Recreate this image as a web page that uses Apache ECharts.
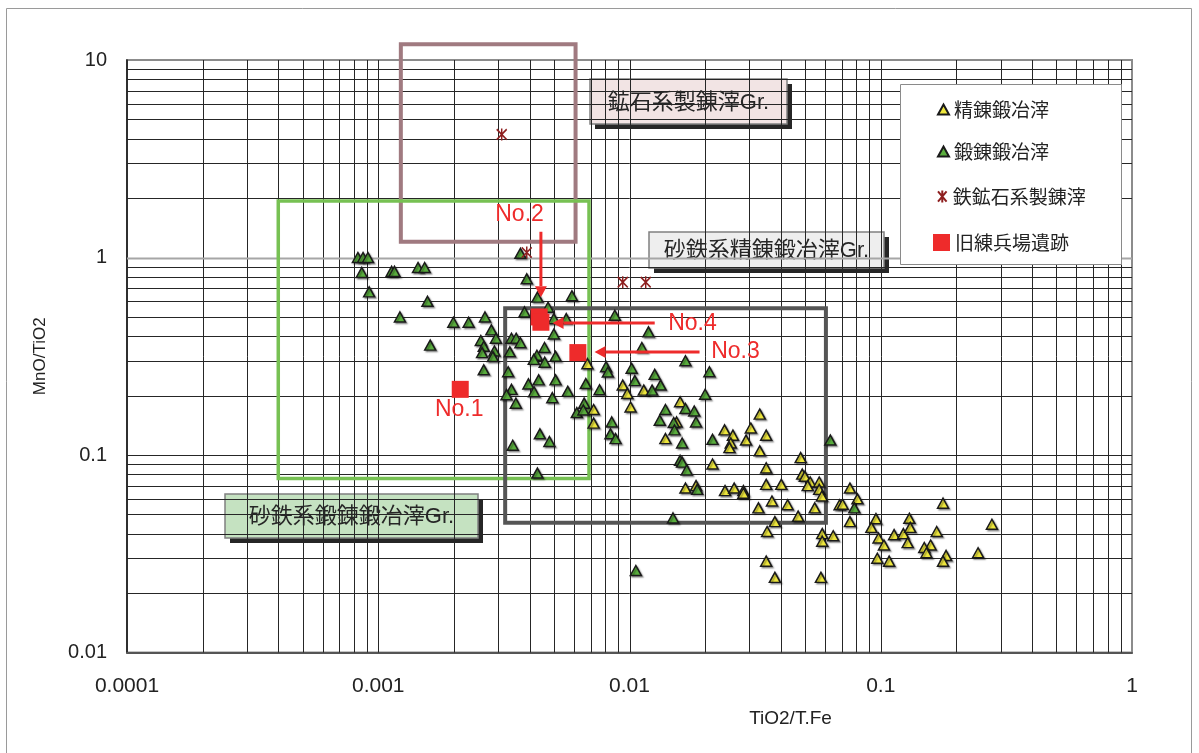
<!DOCTYPE html>
<html>
<head>
<meta charset="utf-8">
<script src="https://cdn.jsdelivr.net/npm/echarts@6/dist/echarts.min.js"></script>
<style>
  html, body { margin: 0; padding: 0; background: #ffffff; }
  #chart { width: 1199px; height: 753px; }
</style>
</head>
<body>
<div id="chart"></div>
<script>
// ---- Data: TiO2/T.Fe (x) versus MnO/TiO2 (y) ----

// 精錬鍛冶滓 (refining smithing slag)
const refiningSlag = [
  [0.0068, 0.29], [0.0094, 0.226], [0.0098, 0.205], [0.0101, 0.175], [0.0072, 0.17],
  [0.0072, 0.145], [0.0114, 0.213], [0.0159, 0.186], [0.0154, 0.147], [0.0139, 0.121],
  [0.0239, 0.134], [0.0258, 0.126], [0.0253, 0.115], [0.025, 0.109], [0.0291, 0.119],
  [0.0304, 0.137], [0.033, 0.161], [0.035, 0.126], [0.033, 0.105], [0.0214, 0.090],
  [0.035, 0.086], [0.048, 0.097], [0.0487, 0.080], [0.0499, 0.078], [0.0524, 0.073],
  [0.0569, 0.073], [0.0512, 0.070], [0.0569, 0.067], [0.0583, 0.062], [0.0167, 0.068],
  [0.0184, 0.070], [0.024, 0.066], [0.0261, 0.068], [0.0284, 0.066], [0.035, 0.071],
  [0.0402, 0.071], [0.0284, 0.064], [0.0369, 0.0585], [0.0426, 0.056], [0.0326, 0.054],
  [0.0546, 0.054], [0.0469, 0.049], [0.0379, 0.046], [0.0353, 0.041], [0.0585, 0.040],
  [0.0647, 0.039], [0.0585, 0.0366], [0.0754, 0.068], [0.0808, 0.060], [0.0686, 0.056],
  [0.0705, 0.0563], [0.0754, 0.046], [0.0957, 0.0476], [0.0918, 0.043], [0.098, 0.038],
  [0.103, 0.035], [0.113, 0.0395], [0.123, 0.040], [0.130, 0.0478], [0.131, 0.043],
  [0.128, 0.036], [0.167, 0.041], [0.177, 0.057], [0.158, 0.035], [0.149, 0.034],
  [0.152, 0.032], [0.182, 0.031], [0.177, 0.029], [0.0969, 0.030], [0.108, 0.029],
  [0.277, 0.0446], [0.244, 0.032], [0.0578, 0.024], [0.035, 0.029], [0.0379, 0.024]
];

// 鍛錬鍛冶滓 (forging smithing slag)
const forgingSlag = [
  [0.00083, 1.0], [0.00087, 1.0], [0.00091, 1.0], [0.00086, 0.84], [0.00113, 0.85],
  [0.00116, 0.85], [0.00144, 0.89], [0.00153, 0.89], [0.00092, 0.67], [0.00157, 0.60],
  [0.00122, 0.50], [0.00161, 0.36], [0.00199, 0.47], [0.00229, 0.47], [0.00266, 0.50],
  [0.00282, 0.43], [0.00294, 0.39], [0.00256, 0.38], [0.00263, 0.355], [0.00259, 0.33],
  [0.0029, 0.336], [0.00286, 0.315], [0.00263, 0.27], [0.00368, 1.05], [0.0039, 0.78],
  [0.0043, 0.63], [0.00474, 0.56], [0.0059, 0.64], [0.00382, 0.53], [0.005, 0.49],
  [0.0056, 0.49], [0.00874, 0.51], [0.00339, 0.39], [0.00354, 0.39], [0.00368, 0.37],
  [0.005, 0.41], [0.00459, 0.35], [0.00334, 0.333], [0.00428, 0.32], [0.00416, 0.305],
  [0.0046, 0.295], [0.00508, 0.316], [0.00329, 0.264], [0.00435, 0.24], [0.00396, 0.229],
  [0.00339, 0.215], [0.00324, 0.202], [0.00417, 0.209], [0.00508, 0.24], [0.00568, 0.21],
  [0.00493, 0.195], [0.00353, 0.183], [0.0067, 0.23], [0.0076, 0.214], [0.00807, 0.28],
  [0.0082, 0.263], [0.0066, 0.183], [0.00617, 0.164], [0.00655, 0.169], [0.0085, 0.147],
  [0.0084, 0.128], [0.0088, 0.121], [0.0044, 0.128], [0.0048, 0.117], [0.00343, 0.112],
  [0.0043, 0.081], [0.0102, 0.275], [0.0119, 0.42], [0.0112, 0.35], [0.0167, 0.30],
  [0.0208, 0.264], [0.0126, 0.256], [0.0105, 0.238], [0.0133, 0.226], [0.0123, 0.213],
  [0.020, 0.203], [0.0139, 0.17], [0.0167, 0.172], [0.0181, 0.167], [0.0132, 0.15],
  [0.015, 0.146], [0.0184, 0.147], [0.0151, 0.134], [0.0162, 0.115], [0.0214, 0.12],
  [0.0159, 0.094], [0.0162, 0.092], [0.0169, 0.084], [0.0186, 0.067], [0.063, 0.119],
  [0.0785, 0.054], [0.0149, 0.048], [0.0106, 0.026]
];

// 鉄鉱石系製錬滓 (iron-ore smelting slag)
const oreSmeltingSlag = [
  [0.0031, 4.2], [0.0039, 1.06], [0.0094, 0.75], [0.0116, 0.75]
];

// 旧練兵場遺跡 samples
const siteNames = ['No.1', 'No.2', 'No.3', 'No.4'];
const siteSamples = [
  [0.00212, 0.215], [0.00437, 0.50], [0.00623, 0.33], [0.00444, 0.47]
];

// Group fields: [xFrom, xTo, yFrom, yTo]
const groupZones = [
  [0.00123, 0.0061, 1.2, 12],      // 鉱石系製錬滓Gr.
  [0.0004, 0.0069, 0.076, 1.93],   // 砂鉄系鍛錬鍛冶滓Gr.
  [0.0032, 0.0605, 0.0454, 0.553]  // 砂鉄系精錬鍛冶滓Gr.
];

// Axis ticks
const xTicks = [0.0001, 0.001, 0.01, 0.1, 1];
const xTickLabels = ['0.0001', '0.001', '0.01', '0.1', '1'];
const yTicks = [0.01, 0.1, 1, 10];
const yTickLabels = ['0.01', '0.1', '1', '10'];

// ---- Layout / styling ----
const X_MIN = xTicks[0], X_MAX = xTicks[xTicks.length - 1];
const Y_MIN = yTicks[0], Y_MAX = yTicks[yTicks.length - 1];
const RED = '#ee2b2b';
const YELLOW = '#efe83e';
const GREEN = '#5aae3e';
const ORE = '#8e1f1f';
const LATIN = "'Liberation Sans', Arial, sans-serif";
const CJK = "'Liberation Sans', 'Noto Sans CJK JP', sans-serif";
const STAR_PATH = 'path://M0,0L10,12M10,0L0,12M5,-1L5,13';

const zoneStyles = [
  { stroke: '#a07a80', lineWidth: 4 },
  { stroke: '#77c153', lineWidth: 3.5 },
  { stroke: '#555555', lineWidth: 4 }
];

// callout labels for the site samples (text anchor, in data units)
const calloutText = [
  [0.0021, 0.169], [0.00365, 1.64], [0.0264, 0.332], [0.0178, 0.465]
];
// arrows: [fromX, fromY, toX, toY]
const calloutArrows = [
  [0.00444, 1.35, 0.00444, 0.63],
  [0.019, 0.332, 0.00726, 0.332],
  [0.0126, 0.466, 0.00494, 0.466]
];

function tickText(v, ticks, labels) {
  let best = 0, bestD = Infinity;
  ticks.forEach((t, i) => {
    const d = Math.abs(Math.log10(v) - Math.log10(t));
    if (d < bestD) { bestD = d; best = i; }
  });
  return bestD < 0.01 ? labels[best] : '';
}

// log grid lines: every 1..9 x 10^n inside the plot
function logLines(lo, hi) {
  const out = [];
  for (let e = Math.round(Math.log10(lo)); e < Math.round(Math.log10(hi)); e++) {
    for (let m = 1; m < 10; m++) {
      const v = +(m * Math.pow(10, e)).toPrecision(6);
      if (v > lo * 1.0001 && v < hi * 0.9999) out.push(v);
    }
  }
  return out;
}
const gridRows = [];
logLines(X_MIN, X_MAX).forEach(v => gridRows.push([v, Y_MIN, 0]));
logLines(Y_MIN, Y_MAX).forEach(v => gridRows.push([X_MIN, v, 1]));

function tagBox(x, y, w, h, fill, text) {
  return {
    type: 'group', z: 60,
    children: [
      { type: 'rect', shape: { x: x + 5, y: y + 5, width: w, height: h }, style: { fill: '#262626' } },
      { type: 'rect', shape: { x: x, y: y, width: w, height: h }, style: { fill: fill, stroke: '#808080', lineWidth: 1.5 } },
      { type: 'text', x: x + w / 2, y: y + h / 2 + 1,
        style: { text: text, fill: '#262626', fontSize: 22, fontFamily: CJK, align: 'center', verticalAlign: 'middle' } }
    ]
  };
}

const triShadow = { shadowBlur: 1.5, shadowColor: 'rgba(0,0,0,0.35)', shadowOffsetX: 1.5, shadowOffsetY: 1.5 };

const chart = echarts.init(document.getElementById('chart'), null, { renderer: 'canvas' });

const legendText = { fontSize: 19, color: '#222', fontFamily: "'Noto Sans CJK JP', sans-serif" };
function legendFor(name, left, centerY, w, h) {
  return {
    data: [name], left: left, top: centerY - 10, padding: 0, itemWidth: w, itemHeight: h,
    textStyle: legendText, selectedMode: false, z: 80
  };
}

const option = {
  animation: false,
  backgroundColor: '#ffffff',
  grid: {
    left: 127, right: 67, top: 60, bottom: 100.5,
    show: true, borderColor: '#8c8c8c', borderWidth: 2, backgroundColor: 'transparent'
  },
  xAxis: {
    type: 'log', logBase: 10, min: X_MIN, max: X_MAX,
    axisLine: { show: true, lineStyle: { color: '#555', width: 2 } },
    axisTick: { show: false },
    splitLine: { show: false },
    axisLabel: { margin: 23, fontSize: 21, color: '#222', fontFamily: LATIN,
      formatter: v => tickText(v, xTicks, xTickLabels) },
    name: 'TiO2/T.Fe', nameLocation: 'middle', nameGap: 57,
    nameTextStyle: { fontSize: 19, color: '#222', fontFamily: LATIN, padding: [0, 0, 0, 322] }
  },
  yAxis: {
    type: 'log', logBase: 10, min: Y_MIN, max: Y_MAX,
    axisLine: { show: true, lineStyle: { color: '#111', width: 1.5 } },
    axisTick: { show: false },
    splitLine: { show: false },
    axisLabel: { margin: 20, fontSize: 20, color: '#222', fontFamily: LATIN,
      formatter: v => tickText(v, yTicks, yTickLabels) },
    name: 'MnO/TiO2', nameLocation: 'middle', nameGap: 78, nameRotate: 90,
    nameTextStyle: { fontSize: 17, color: '#222', fontFamily: LATIN }
  },
  legend: [
    legendFor('精錬鍛冶滓', 937, 110, 11, 10),
    legendFor('鍛錬鍛冶滓', 937, 152, 11, 10),
    legendFor('鉄鉱石系製錬滓', 937, 197, 11, 12),
    legendFor('旧練兵場遺跡', 933, 243, 17, 17)
  ],
  graphic: [
    { type: 'rect', z: -10, shape: { x: 6.5, y: 8.5, width: 1185, height: 760 },
      style: { fill: 'none', stroke: '#9a9a9a', lineWidth: 1 } },
    tagBox(590, 79, 197, 45, '#f2e4e4', '鉱石系製錬滓Gr.'),
    tagBox(649, 232, 235, 36, '#eeeeee', '砂鉄系精錬鍛冶滓Gr.'),
    tagBox(225, 494, 253, 44, '#c5e2c1', '砂鉄系鍛錬鍛冶滓Gr.'),
    { type: 'rect', z: 70, shape: { x: 900.5, y: 84.5, width: 221, height: 180 },
      style: { fill: '#ffffff', stroke: '#8a8a8a', lineWidth: 1 } }
  ],
  series: [
    {
      // log grid
      type: 'custom', name: 'grid', silent: true, z: 1,
      data: gridRows, encode: { x: 0, y: 1 },
      renderItem: function (params, api) {
        const kind = api.value(2);
        if (kind === 0) {
          const a = api.coord([api.value(0), Y_MIN]);
          const b = api.coord([api.value(0), Y_MAX]);
          const x = Math.round(a[0]) + 0.5;
          return { type: 'line', shape: { x1: x, y1: a[1], x2: x, y2: b[1] },
            style: { stroke: '#262626', lineWidth: 1 } };
        }
        const v = api.value(1);
        const a = api.coord([X_MIN, v]);
        const b = api.coord([X_MAX, v]);
        const major = Math.abs(Math.log10(v)) < 1e-6;
        const y = Math.round(a[1]) + 0.5;
        return { type: 'line', shape: { x1: a[0], y1: y, x2: b[0], y2: y },
          style: major ? { stroke: '#a6a6a6', lineWidth: 2 } : { stroke: '#262626', lineWidth: 1 } };
      }
    },
    {
      // group fields
      type: 'custom', name: 'zones', silent: true, z: 2, clip: false,
      data: groupZones, encode: { x: [0, 1], y: [2, 3] },
      renderItem: function (params, api) {
        const p0 = api.coord([api.value(0), api.value(3)]);
        const p1 = api.coord([api.value(1), api.value(2)]);
        const st = zoneStyles[params.dataIndex];
        return { type: 'rect',
          shape: { x: p0[0], y: p0[1], width: p1[0] - p0[0], height: p1[1] - p0[1] },
          style: { fill: 'none', stroke: st.stroke, lineWidth: st.lineWidth } };
      }
    },
    {
      name: '精錬鍛冶滓', type: 'scatter', z: 3, symbol: 'triangle', symbolSize: [11, 10],
      itemStyle: Object.assign({ color: YELLOW, borderColor: '#1a1a1a', borderWidth: 1.5, opacity: 1 }, triShadow),
      data: refiningSlag
    },
    {
      name: '鍛錬鍛冶滓', type: 'scatter', z: 3, symbol: 'triangle', symbolSize: [11, 10],
      itemStyle: Object.assign({ color: GREEN, borderColor: '#1a1a1a', borderWidth: 1.5, opacity: 1 }, triShadow),
      data: forgingSlag
    },
    {
      name: '鉄鉱石系製錬滓', type: 'scatter', z: 4, symbol: STAR_PATH, symbolSize: [10, 12],
      itemStyle: { color: ORE, borderColor: ORE, borderWidth: 1.6, opacity: 1 },
      data: oreSmeltingSlag
    },
    {
      name: '旧練兵場遺跡', type: 'scatter', z: 5, symbol: 'rect', symbolSize: 17,
      itemStyle: { color: RED, opacity: 1 },
      data: siteSamples.map((p, i) => ({ name: siteNames[i], value: p }))
    },
    {
      // arrows pointing at the site samples
      type: 'custom', name: 'arrows', silent: true, z: 6, clip: false,
      data: calloutArrows, encode: { x: [0, 2], y: [1, 3] },
      renderItem: function (params, api) {
        const a = api.coord([api.value(0), api.value(1)]);
        const b = api.coord([api.value(2), api.value(3)]);
        const dx = b[0] - a[0], dy = b[1] - a[1];
        const len = Math.hypot(dx, dy), ux = dx / len, uy = dy / len;
        const hl = 11, hw = 6;
        const base = [b[0] - ux * hl, b[1] - uy * hl];
        return { type: 'group', children: [
          { type: 'line', shape: { x1: a[0], y1: a[1], x2: base[0], y2: base[1] },
            style: { stroke: RED, lineWidth: 3 } },
          { type: 'polygon', shape: { points: [b, [base[0] - uy * hw, base[1] + ux * hw], [base[0] + uy * hw, base[1] - ux * hw]] },
            style: { fill: RED } }
        ] };
      }
    },
    {
      // sample numbers
      type: 'custom', name: 'callouts', silent: true, z: 6, clip: false,
      data: calloutText, encode: { x: 0, y: 1 },
      renderItem: function (params, api) {
        const p = api.coord([api.value(0), api.value(1)]);
        return { type: 'text', x: p[0], y: p[1],
          style: { text: siteNames[params.dataIndex], fill: RED, fontSize: 23, fontFamily: LATIN,
            align: 'center', verticalAlign: 'middle' } };
      }
    }
  ]
};

chart.setOption(option);
</script>
</body>
</html>
